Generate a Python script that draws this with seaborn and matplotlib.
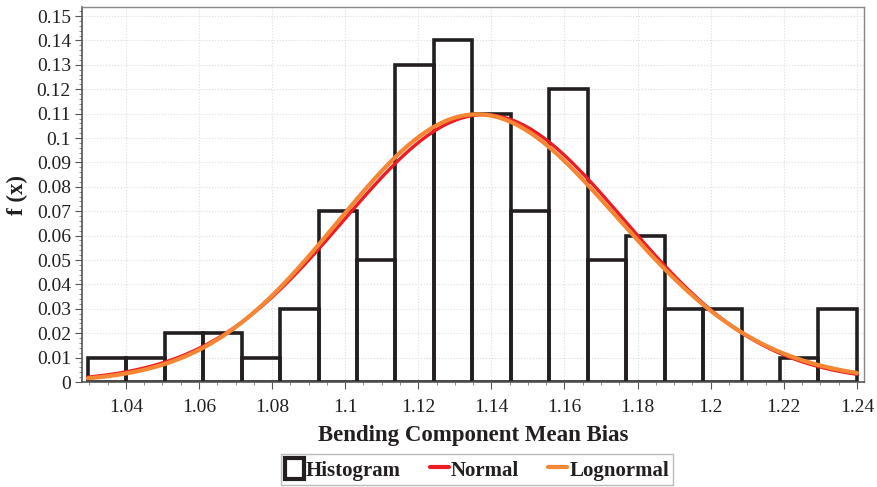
import numpy as np
import pandas as pd
import matplotlib
matplotlib.use("Agg")
import matplotlib.pyplot as plt
from matplotlib.patches import Rectangle
from matplotlib.lines import Line2D
from matplotlib.ticker import MultipleLocator, FuncFormatter
import seaborn as sns

# ---- data ----
bin_left = 1.0296
bin_width = 0.01052
rel_freq = [0.01, 0.01, 0.02, 0.02, 0.01, 0.03, 0.07, 0.05, 0.13, 0.14,
            0.11, 0.07, 0.12, 0.05, 0.06, 0.03, 0.03, 0.00, 0.01, 0.03]
normal_mean = 1.1380
normal_sd = 0.0383
lognormal_mean = 1.1380
lognormal_sd = 0.0383
x_ticks = [1.04, 1.06, 1.08, 1.10, 1.12, 1.14, 1.16, 1.18, 1.20, 1.22, 1.24]
y_ticks = [0, 0.01, 0.02, 0.03, 0.04, 0.05, 0.06, 0.07, 0.08, 0.09, 0.10,
           0.11, 0.12, 0.13, 0.14, 0.15]
x_label = "Bending Component Mean Bias"
y_label = "f (x)"
legend_labels = ["Histogram", "Normal", "Lognormal"]

sns.set_theme(style="white")
plt.rcParams["font.family"] = ["Liberation Serif", "DejaVu Serif"]

n_bins = len(rel_freq)
edges = bin_left + bin_width * np.arange(n_bins + 1)
centers = (edges[:-1] + edges[1:]) / 2
hist_df = pd.DataFrame({"x": centers, "w": rel_freq})

x_curve = np.linspace(edges[0], edges[-1], 400)
normal_pdf = bin_width * np.exp(-0.5 * ((x_curve - normal_mean) / normal_sd) ** 2) / (normal_sd * np.sqrt(2 * np.pi))
s_ln = np.sqrt(np.log(1 + (lognormal_sd / lognormal_mean) ** 2))
m_ln = np.log(lognormal_mean) - s_ln ** 2 / 2
lognormal_pdf = bin_width * np.exp(-0.5 * ((np.log(x_curve) - m_ln) / s_ln) ** 2) / (x_curve * s_ln * np.sqrt(2 * np.pi))
curve_df = pd.DataFrame({"x": x_curve, "normal": normal_pdf, "lognormal": lognormal_pdf})

INK = "#231f20"
RED = "#ed1c24"
ORANGE = "#f58634"

fig = plt.figure(figsize=(8.77, 4.87), dpi=100)
ax = fig.add_axes([0.0935, 0.2156, 0.8915, 0.770])

sns.histplot(data=hist_df, x="x", weights="w", bins=n_bins,
             binrange=(float(edges[0]), float(edges[-1])), stat="count",
             fill=False, element="bars", color=INK, edgecolor=INK,
             linewidth=2.6, ax=ax)
sns.lineplot(data=curve_df, x="x", y="normal", color=RED, linewidth=2.4, ax=ax)
sns.lineplot(data=curve_df, x="x", y="lognormal", color=ORANGE, linewidth=3.0, ax=ax)

ax.set_xlim(1.028, 1.2419)
ax.set_ylim(0, 0.1537)
ax.set_xticks(x_ticks)
ax.set_yticks(y_ticks)
ax.xaxis.set_minor_locator(MultipleLocator(0.005))
ax.yaxis.set_minor_locator(MultipleLocator(0.002))
fmt = FuncFormatter(lambda v, p: ("%.2f" % v).rstrip("0").rstrip(".") if abs(v) > 1e-9 else "0")
ax.xaxis.set_major_formatter(fmt)
ax.yaxis.set_major_formatter(fmt)
ax.tick_params(axis="both", which="major", labelsize=14, colors="#555555",
               labelcolor=INK, direction="out", length=5, width=0.8,
               bottom=True, left=True, pad=3)
ax.tick_params(axis="x", which="major", pad=7)
ax.tick_params(axis="both", which="minor", direction="out", length=2.5, width=0.6,
               colors="#777777", bottom=True, left=True)
ax.grid(True, which="major", color="#dddddd", linestyle=":", linewidth=0.8)
ax.set_axisbelow(True)
for side in ["left", "bottom"]:
    ax.spines[side].set_color("#555555")
    ax.spines[side].set_linewidth(1.2)
for side in ["top", "right"]:
    ax.spines[side].set_color("#888888")
    ax.spines[side].set_linewidth(1.0)

ax.set_xlabel(x_label, fontsize=16.5, fontweight="bold", color=INK, labelpad=7)
ax.set_ylabel(y_label, fontsize=16.5, fontweight="bold", color=INK, labelpad=6)

handles = [
    Rectangle((0, 0), 1, 1, facecolor="white", edgecolor=INK, linewidth=3.0),
    Line2D([0], [0], color=RED, linewidth=3),
    Line2D([0], [0], color=ORANGE, linewidth=3),
]
leg = fig.legend(handles, legend_labels, loc="lower center", ncol=3,
                 bbox_to_anchor=(0.544, 0.0), frameon=True, fancybox=False,
                 prop={"size": 15, "weight": "bold"}, handlelength=0.9,
                 handleheight=1.2, handletextpad=0.1, columnspacing=1.4,
                 borderpad=0.2, borderaxespad=0.1, edgecolor="#aaaaaa")
leg.get_frame().set_linewidth(1.0)
for t in leg.get_texts():
    t.set_color(INK)

fig.savefig("out.png", dpi=100)
